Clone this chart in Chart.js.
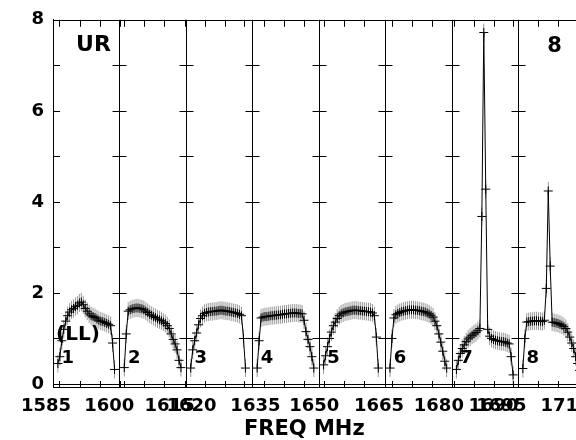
<!DOCTYPE html>
<html>
<head>
<meta charset="utf-8">
<script src="https://cdn.jsdelivr.net/npm/chart.js@4/dist/chart.umd.min.js"></script>
<style>
  html, body { margin: 0; padding: 0; background: #fff; overflow: hidden; }
  #wrap { width: 576px; height: 440px; overflow: hidden; }
</style>
</head>
<body>
<div id="wrap"><canvas id="possm" width="600" height="440"></canvas></div>
<script>
// amplitude per channel, one array per IF (30 channels each)
const if1 = [0.45, 0.6, 0.95, 1.2, 1.38, 1.5, 1.58, 1.63, 1.66, 1.7, 1.73, 1.78, 1.8, 1.74, 1.66, 1.6, 1.54, 1.5, 1.48, 1.46, 1.43, 1.4, 1.38, 1.37, 1.35, 1.33, 1.31, 1.28, 0.9, 0.32];
const if2 = [0.36, 1.1, 1.6, 1.63, 1.65, 1.66, 1.67, 1.67, 1.66, 1.65, 1.63, 1.6, 1.57, 1.53, 1.51, 1.48, 1.46, 1.43, 1.41, 1.39, 1.36, 1.33, 1.28, 1.22, 1.1, 0.98, 0.88, 0.75, 0.52, 0.36];
const if3 = [0.35, 0.75, 0.95, 1.12, 1.3, 1.44, 1.5, 1.55, 1.57, 1.58, 1.59, 1.59, 1.6, 1.6, 1.61, 1.62, 1.62, 1.61, 1.6, 1.6, 1.59, 1.58, 1.57, 1.56, 1.55, 1.53, 1.5, 1.0, 0.35];
const if4 = [0.35, 0.95, 1.45, 1.47, 1.48, 1.48, 1.49, 1.5, 1.5, 1.51, 1.51, 1.52, 1.52, 1.53, 1.54, 1.54, 1.55, 1.55, 1.56, 1.56, 1.56, 1.55, 1.55, 1.54, 1.4, 1.15, 0.98, 0.82, 0.6, 0.35];
const if5 = [0.42, 0.62, 0.82, 1.0, 1.14, 1.28, 1.36, 1.44, 1.5, 1.54, 1.56, 1.58, 1.59, 1.6, 1.61, 1.62, 1.62, 1.62, 1.61, 1.61, 1.6, 1.6, 1.59, 1.59, 1.58, 1.56, 1.5, 1.03, 0.35];
const if6 = [0.35, 1.0, 1.45, 1.52, 1.55, 1.57, 1.59, 1.6, 1.61, 1.62, 1.63, 1.63, 1.63, 1.62, 1.62, 1.61, 1.6, 1.59, 1.58, 1.56, 1.54, 1.51, 1.47, 1.38, 1.28, 1.1, 0.92, 0.72, 0.5, 0.35];
const if7 = [0.32, 0.52, 0.67, 0.78, 0.86, 0.93, 0.99, 1.03, 1.07, 1.1, 1.13, 1.17, 1.22, 3.68, 7.72, 4.28, 1.2, 1.05, 1.0, 0.98, 0.96, 0.95, 0.94, 0.93, 0.93, 0.92, 0.9, 0.88, 0.6, 0.2];
const if8 = [0.34, 1.0, 1.36, 1.37, 1.38, 1.38, 1.39, 1.39, 1.38, 1.38, 1.37, 1.4, 2.1, 4.24, 2.59, 1.36, 1.35, 1.34, 1.33, 1.31, 1.29, 1.26, 1.22, 1.14, 1.03, 0.9, 0.78, 0.6, 0.45, 0.3];

const ifData = [if1, if2, if3, if4, if5, if6, if7, if8];
const ifNames = ['1', '2', '3', '4', '5', '6', '7', '8'];

// x axis runs in channel slots, 34 slots per IF panel
const SLOTS = 34;
const FIRST_CHAN = 2.5;

// frequency labels (MHz) and where they sit on the slot axis
const freqLabels = ['1585', '1600', '1615', '1620', '1635', '1650', '1665', '1680', '1690', '1695', '1710'];
const freqLabelAt = [-3.6, 28.8, 59.7, 70.9, 103.6, 133.7, 166.9, 197.5, 225.5, 229.5, 262.3];
const freqTicksAt = [3.1, 13.8, 24, 34.2, 36.2, 46.4, 56.6, 67.4, 77.6, 87.8, 98, 108.2, 118.4, 128.6,
  138.8, 149, 159.2, 173.5, 183.7, 193.9, 205.1, 215.3, 225.5, 235.2, 248, 258.7, 268.9];
const ampLabels = [0, 2, 4, 6, 8];

const FONT = 'DejaVu Sans';

const spectra = ifData.map((vals, k) => ({
  data: vals.map((v, i) => ({ x: k * SLOTS + FIRST_CHAN + i, y: v })),
  showLine: true,
  borderColor: '#000',
  borderWidth: 1,
  pointStyle: 'cross',
  pointRadius: 4.5,
  pointBorderColor: '#000',
  pointBorderWidth: 1,
  order: 0
}));

// vertical error strokes behind the crosses
const errBars = {
  data: ifData.flatMap((vals, k) => vals.map((v, i) => ({ x: k * SLOTS + FIRST_CHAN + i, y: v }))),
  showLine: false,
  pointStyle: 'line',
  rotation: 90,
  pointRadius: 9,
  pointBorderColor: 'rgba(0,0,0,0.4)',
  pointBorderWidth: 1,
  order: 1
};

const framePlugin = {
  id: 'frame',
  beforeDatasetsDraw(chart) {
    const { ctx, chartArea: a, scales: { x, y } } = chart;
    const h = v => Math.round(v) + 0.5;
    ctx.save();
    ctx.strokeStyle = '#000';
    ctx.lineWidth = 1;
    ctx.beginPath();
    ctx.moveTo(a.left, h(a.top)); ctx.lineTo(a.right, h(a.top));
    const y0 = h(y.getPixelForValue(0));
    ctx.moveTo(a.left, y0); ctx.lineTo(a.right, y0);
    const seps = [];
    for (let k = 1; k < ifData.length; k++) seps.push(h(x.getPixelForValue(k * SLOTS)));
    seps.forEach(px => { ctx.moveTo(px, a.top); ctx.lineTo(px, a.bottom); });
    for (let v = 1; v < 8; v++) {
      const py = h(y.getPixelForValue(v));
      ctx.moveTo(a.left, py); ctx.lineTo(a.left + 7, py);
      seps.forEach(px => { ctx.moveTo(px - 7, py); ctx.lineTo(px + 7, py); });
    }
    freqTicksAt.forEach(u => {
      const px = h(x.getPixelForValue(u));
      ctx.moveTo(px, a.top); ctx.lineTo(px, a.top + 7);
      ctx.moveTo(px, a.bottom); ctx.lineTo(px, a.bottom - 6);
    });
    ctx.stroke();
    ctx.restore();
  },
  afterDraw(chart) {
    const { ctx, scales: { x, y } } = chart;
    ctx.save();
    ctx.fillStyle = '#000';
    ctx.textAlign = 'center';
    ctx.textBaseline = 'middle';
    ctx.font = `bold 22px "${FONT}"`;
    ctx.fillText('UR', x.getPixelForValue(20.7), y.getPixelForValue(7.44));
    ctx.font = `bold 21px "${FONT}"`;
    ctx.fillText('8', x.getPixelForValue(256.7), y.getPixelForValue(7.42));
    ctx.font = `bold 20px "${FONT}"`;
    ctx.fillText('(LL)', x.getPixelForValue(12.8), y.getPixelForValue(1.07));
    ctx.font = `bold 18px "${FONT}"`;
    ifNames.forEach((n, k) => {
      ctx.fillText(n, x.getPixelForValue(k * SLOTS + 7.6), y.getPixelForValue(0.57));
    });
    ctx.font = `bold 21px "${FONT}"`;
    ctx.fillText('FREQ MHz', x.getPixelForValue(128.6), chart.height - 10);
    ctx.restore();
  }
};

new Chart(document.getElementById('possm'), {
  type: 'scatter',
  data: { datasets: [...spectra, errBars] },
  options: {
    responsive: false,
    animation: false,
    devicePixelRatio: 1,
    layout: { padding: { left: 0, right: 14, top: 18, bottom: 0 } },
    plugins: { legend: { display: false }, tooltip: { enabled: false } },
    elements: { line: { tension: 0 } },
    scales: {
      x: {
        type: 'linear',
        min: 0,
        max: SLOTS * ifData.length,
        grid: { display: false, drawTicks: false },
        border: { display: true, color: '#000', width: 1 },
        afterBuildTicks: s => { s.ticks = freqLabelAt.map(v => ({ value: v })); },
        afterFit: s => { s.height = 53; },
        ticks: {
          autoSkip: false,
          maxRotation: 0,
          minRotation: 0,
          padding: 9,
          color: '#000',
          font: { family: FONT, size: 18, weight: 'bold' },
          callback: (v, i) => freqLabels[i]
        }
      },
      y: {
        type: 'linear',
        min: -0.066,
        max: 8,
        grid: { display: false, drawTicks: false },
        border: { display: true, color: '#000', width: 1 },
        afterBuildTicks: s => { s.ticks = ampLabels.map(v => ({ value: v })); },
        afterFit: s => { s.width = 53; },
        ticks: {
          padding: 9,
          color: '#000',
          font: { family: FONT, size: 18, weight: 'bold' },
          callback: v => String(v)
        }
      }
    }
  },
  plugins: [framePlugin]
});
</script>
</body>
</html>
